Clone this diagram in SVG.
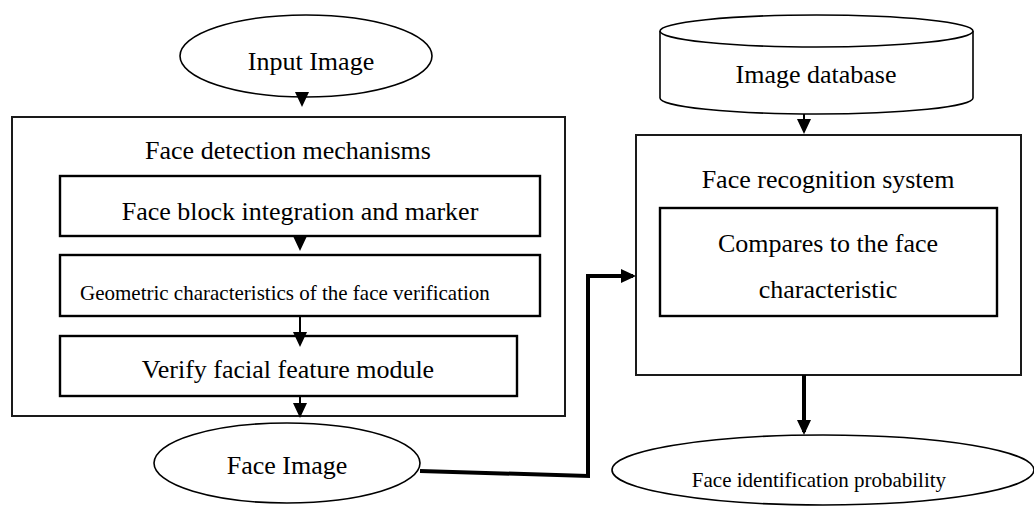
<svg xmlns="http://www.w3.org/2000/svg" width="1034" height="509" viewBox="0 0 1034 509">
  <style>
    .shape { fill: #fff; stroke: #000; stroke-width: 1.6; }
    .box { fill: #fff; stroke: #000; stroke-width: 2.4; }
    .outer { fill: #fff; stroke: #1a1a1a; stroke-width: 2; }
    .label { font-family: "Liberation Serif", "Times New Roman", serif; fill: #000; }
    .lg { font-size: 26px; }
    .sm { font-size: 21px; }
    .mid { text-anchor: middle; }
    .wire { fill: none; stroke: #000; stroke-width: 2; }
    .bold { fill: none; stroke: #000; stroke-width: 4; stroke-linejoin: miter; }
  </style>
  <defs>
    <marker id="head" markerUnits="userSpaceOnUse" markerWidth="15" markerHeight="14" refX="12" refY="7" orient="auto">
      <path d="M0,0 L15,7 L0,14 Z" fill="#000"/>
    </marker>
  </defs>

  <rect width="1034" height="509" fill="#fff"/>

  <g id="input-image">
    <ellipse class="shape" cx="306" cy="56" rx="126" ry="41"/>
    <text class="label lg mid" x="311" y="70">Input Image</text>
  </g>

  <g id="face-detection">
    <rect class="outer" x="12" y="117" width="553" height="299"/>
    <text class="label lg mid" x="288" y="159">Face detection mechanisms</text>
  </g>

  <g id="block-integration">
    <rect class="box" x="60" y="176" width="480" height="60"/>
    <text class="label lg mid" x="300" y="220">Face block integration and marker</text>
  </g>

  <g id="geometric-verification">
    <rect class="box" x="60" y="255" width="480" height="61"/>
    <text class="label sm" x="80" y="300">Geometric characteristics of the face verification</text>
  </g>

  <g id="feature-module">
    <rect class="box" x="60" y="336" width="457" height="60"/>
    <text class="label lg mid" x="288" y="378">Verify facial feature module</text>
  </g>

  <g id="face-image">
    <ellipse class="shape" cx="287" cy="463" rx="133" ry="40"/>
    <text class="label lg mid" x="287" y="474">Face Image</text>
  </g>

  <g id="image-database">
    <path class="shape" d="M660,31 L660,98 A156.5,16 0 0 0 973,98 L973,31"/>
    <ellipse class="shape" cx="816.5" cy="31" rx="156.5" ry="16"/>
    <text class="label lg mid" x="816" y="83">Image database</text>
  </g>

  <g id="face-recognition">
    <rect class="outer" x="636" y="135" width="385" height="240"/>
    <text class="label lg mid" x="828" y="188">Face recognition system</text>
  </g>

  <g id="compare-characteristic">
    <rect class="box" x="660" y="208" width="337" height="108"/>
    <text class="label lg mid" x="828" y="252">Compares to the face</text>
    <text class="label lg mid" x="828" y="298">characteristic</text>
  </g>

  <g id="identification-probability">
    <ellipse class="shape" cx="823" cy="470" rx="211" ry="35"/>
    <text class="label sm mid" x="819" y="487">Face identification probability</text>
  </g>

  <g id="connectors">
    <line class="wire" x1="302" y1="97" x2="302" y2="104" marker-end="url(#head)"/>
    <line class="wire" x1="300" y1="236" x2="300" y2="248" marker-end="url(#head)"/>
    <line class="wire" x1="300" y1="316" x2="300" y2="344" marker-end="url(#head)"/>
    <line class="wire" x1="300" y1="396" x2="300" y2="415" marker-end="url(#head)"/>
    <line class="wire" x1="804" y1="114" x2="804" y2="131" marker-end="url(#head)"/>
    <polyline class="bold" points="420,471 588,476 588,276 633,276" marker-end="url(#head)"/>
    <line class="bold" x1="804" y1="375" x2="804" y2="432" marker-end="url(#head)"/>
  </g>
</svg>
